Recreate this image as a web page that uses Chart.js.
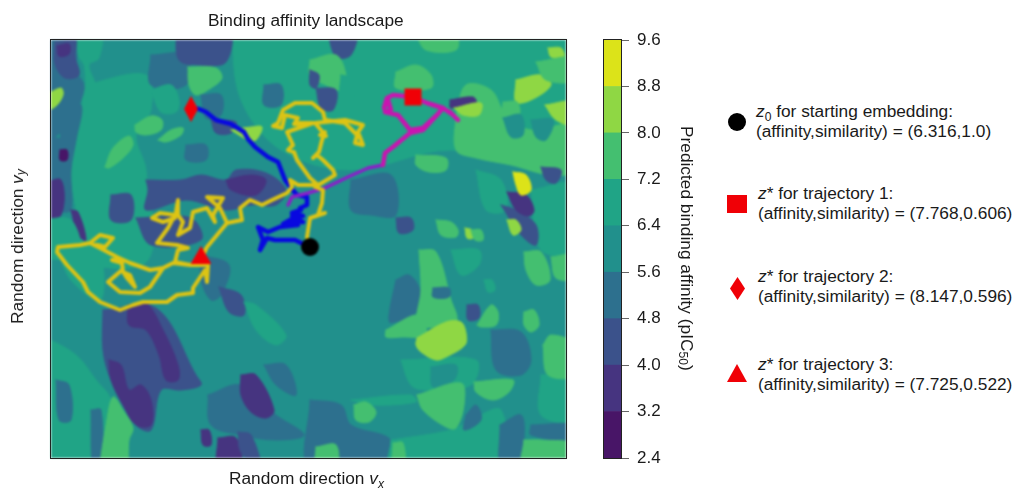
<!DOCTYPE html>
<html>
<head>
<meta charset="utf-8">
<script src="https://cdn.jsdelivr.net/npm/chart.js@4"></script>
<style>
  html, body { margin: 0; padding: 0; background: #fff; }
  body { width: 1013px; height: 488px; position: relative; overflow: hidden; font-family: "Liberation Sans", Arial, sans-serif; color: #1a1a1a; }
  .box { position: absolute; }
  #landscape { filter: blur(0.9px); }
  .frame { position: absolute; border: 1px solid #222; box-sizing: border-box; pointer-events: none; }
  .lbl { position: absolute; white-space: nowrap; font-size: 17.3px; line-height: 20px; }
  .vert { writing-mode: vertical-rl; }
  .up { transform: rotate(180deg); }
  sub { font-size: 70%; line-height: 0; }
  .entry { position: absolute; left: 758px; font-size: 17.3px; line-height: 20px; white-space: nowrap; }
  .mark { position: absolute; background: #f00006; filter: blur(0.5px); }
</style>
</head>
<body>
<div class="box" style="left:0;top:0;width:590px;height:488px"><canvas id="landscape"></canvas></div>
<div class="box" style="left:590px;top:0;width:100px;height:488px"><canvas id="colorbar"></canvas></div>
<div class="frame" style="left:50px;top:39px;width:517px;height:420px"></div>
<div class="frame" style="left:603px;top:39px;width:19px;height:420px"></div>

<div class="lbl" style="left:208px;top:10px">Binding affinity landscape</div>
<div class="lbl" style="left:229px;top:468px">Random direction <i>v<sub>x</sub></i></div>
<div class="lbl vert up" style="left:7px;top:169px">Random direction <i>v<sub>y</sub></i></div>
<div class="lbl vert" style="left:677px;top:126px">Predicted binding affinity (pIC<sub>50</sub>)</div>

<div class="mark" style="left:728px;top:113px;width:18px;height:18px;border-radius:50%;background:#000"></div>
<div class="entry" style="top:101px;left:756px"><i>z</i><sub>0</sub> for starting embedding:<br>(affinity,similarity) = (6.316,1.0)</div>
<div class="mark" style="left:727px;top:195px;width:20px;height:18px"></div>
<div class="entry" style="top:183px"><i>z</i>* for trajectory 1:<br>(affinity,similarity) = (7.768,0.606)</div>
<div class="mark" style="left:730px;top:277px;width:15px;height:23px;clip-path:polygon(50% 0,100% 50%,50% 100%,0 50%)"></div>
<div class="entry" style="top:266px"><i>z</i>* for trajectory 2:<br>(affinity,similarity) = (8.147,0.596)</div>
<div class="mark" style="left:727px;top:364px;width:20px;height:18px;clip-path:polygon(50% 0,100% 100%,0 100%)"></div>
<div class="entry" style="top:354px"><i>z</i>* for trajectory 3:<br>(affinity,similarity) = (7.725,0.522)</div>

<script>
// Colorbar bins
const tickLabels = [2.4, 3.2, 4.0, 4.8, 5.6, 6.4, 7.2, 8.0, 8.8, 9.6];
const levelColors = ["#481567", "#463480", "#3b528b", "#2d708e", "#21908c", "#20a486", "#44bf70", "#8fd744", "#dce319"];

// Landscape regions, painted in order: [level, x, y, x, y, ...]
const baseLevel = 4;
const regions = [
  [5, 180,-10, 525,-10, 525,130, 400,110, 300,130, 230,110, 190,60],
  [5, 33,45, 95,35, 100,70, 85,95, 95,130, 97,220, 32,220, 25,170, 20,130, 28,90],
  [3, 100,15, 135,15, 135,45, 100,45],
  [3, -10,-10, 27,-10, 25,30, 33,45, 30,60, 18,85, -10,100],
  [2, 4,2, 24,0, 24,16, 28,35, 14,38, 4,24],
  [1, 6,6, 18,4, 18,14, 8,16],
  [5, 27,-10, 50,-10, 48,18, 38,25, 44,45, 36,47, 33,25, 27,15],
  [2, 125,-10, 178,-10, 175,22, 150,25, 128,20],
  [3, 10,70, 30,65, 25,100, 20,130, 20,170, 10,170],
  [3, -10,100, 10,100, 10,145, -10,145],
  [1, -10,145, 10,140, 10,175, -10,180],
  [0, 9,110, 16,110, 16,120, 9,120],
  [1, 20,170, 27,172, 35,200, 27,195],
  [5, -10,180, 20,180, 28,215, -10,215],
  [2, 60,155, 80,155, 80,180, 60,180],
  [2, 95,140, 130,140, 150,135, 175,140, 185,130, 215,133, 235,150, 225,165, 200,165, 175,170, 135,160, 95,170, 97,150],
  [1, 175,140, 200,135, 215,140, 205,155, 180,150],
  [2, 85,178, 140,178, 150,200, 100,205],
  [5, 200,25, 235,25, 235,45, 200,45],
  [6, 137,27, 165,28, 171,38, 160,48, 145,55, 138,45],
  [5, 100,50, 120,45, 128,60, 125,72, 110,72],
  [7, -5,55, 10,48, 12,55, 5,66, -5,70],
  [6, 84,85, 100,76, 111,80, 110,90, 95,95, 85,92],
  [6, 107,100, 120,90, 132,88, 130,95, 115,102],
  [6, 54,127, 62,108, 78,96, 82,105, 72,118, 58,128],
  [3, 213,45, 230,45, 230,65, 213,65],
  [3, 150,55, 170,55, 170,75, 155,78],
  [2, 160,80, 185,82, 180,93, 165,93],
  [7, 180,90, 200,87, 211,87, 205,100, 197,100],
  [3, 135,105, 155,105, 155,120, 135,120],
  [2, 276,-10, 305,-10, 300,15, 285,17],
  [6, 365,-5, 405,-5, 405,10, 375,10],
  [6, 259,20, 285,15, 295,35, 292,50, 275,45, 259,35],
  [5, 290,35, 310,40, 305,55, 290,55],
  [2, 259,30, 268,35, 265,48, 259,45],
  [2, 265,48, 285,50, 282,70, 270,68],
  [6, 345,32, 365,25, 380,35, 380,48, 345,48],
  [6, 405,75, 415,45, 440,50, 455,75, 480,90, 525,85, 525,130, 500,135, 460,125, 425,118, 405,110],
  [7, 465,40, 490,35, 500,45, 480,60, 465,62],
  [6, 452,62, 466,62, 468,75, 452,75],
  [7, 494,65, 525,62, 525,85, 505,80],
  [7, 497,8, 510,8, 513,17, 500,17],
  [6, 485,22, 525,18, 525,40, 495,40],
  [1, 399,60, 422,57, 425,63, 400,68],
  [7, 403,68, 430,63, 428,75, 412,75],
  [4, 452,78, 470,75, 472,95, 460,97],
  [4, 480,80, 502,80, 495,100, 485,97],
  [6, 365,115, 395,118, 395,130, 378,132, 365,125],
  [3, 300,140, 340,135, 345,175, 320,175, 300,170],
  [2, 345,178, 360,178, 362,190, 348,193],
  [5, 425,130, 450,140, 455,170, 435,170],
  [5, 480,150, 525,145, 525,210, 490,210],
  [6, 385,180, 400,182, 407,190, 405,197, 390,195],
  [7, 414,188, 421,190, 422,198, 416,198],
  [6, 420,190, 430,190, 432,200, 424,200],
  [2, 450,165, 465,170, 485,185, 485,205, 470,195],
  [1, 456,152, 475,155, 483,170, 478,176, 465,170],
  [8, 462,132, 475,135, 480,150, 470,155, 465,145],
  [7, 456,180, 465,180, 470,190, 462,195],
  [2, 490,127, 510,130, 505,143, 495,140],
  // lower left
  [5, 5,205, 45,205, 50,260, 20,240],
  [5, -10,295, 25,315, 45,340, 60,360, 55,385, 48,430, -10,430],
  [3, 5,340, 18,345, 20,380, 8,380],
  [3, 40,370, 50,370, 50,430, 42,430],
  [6, 48,430, 55,385, 62,357, 72,370, 82,388, 78,400, 74,430],
  [2, 52,270, 105,268, 145,335, 150,345, 130,350, 110,350, 100,390, 85,385, 60,340, 52,310],
  [1, 58,320, 70,325, 78,350, 90,345, 100,360, 100,385, 85,385, 72,365, 60,340],
  [1, 77,265, 95,263, 112,290, 127,325, 127,340, 115,340, 108,315, 95,290, 78,285],
  [3, 157,355, 190,345, 225,375, 253,395, 225,400, 190,395, 160,385],
  [1, 190,335, 205,335, 223,370, 215,378, 200,372, 190,355],
  [1, 167,398, 185,398, 190,430, 167,430],
  [1, 150,390, 158,390, 160,405, 152,405],
  [2, 187,392, 200,395, 210,430, 190,412],
  [3, 150,215, 178,225, 170,255, 160,260, 150,240],
  [2, 168,247, 190,255, 193,275, 178,272],
  [5, 193,262, 205,265, 235,295, 225,305, 205,290],
  [3, 213,325, 235,325, 245,355, 225,345],
  // lower right
  [3, 259,360, 290,365, 300,385, 340,400, 340,430, 259,430],
  [5, 340,400, 400,390, 420,380, 450,370, 450,430, 340,430],
  [3, 345,240, 358,235, 369,250, 368,270, 340,283, 338,275],
  [5, 400,210, 428,210, 428,225, 410,235],
  [6, 368,210, 385,212, 400,260, 406,280, 395,285, 367,285, 370,250],
  [6, 335,290, 367,275, 375,295, 350,297, 335,297],
  [3, 382,248, 398,248, 398,257, 382,257],
  [5, 350,320, 425,320, 420,345, 375,350, 360,345],
  [4, 380,327, 405,325, 403,340, 382,347],
  [7, 366,298, 395,282, 410,282, 415,293, 414,305, 395,317, 385,320, 370,312, 365,305],
  [2, 416,265, 427,265, 428,278, 417,280],
  [6, 426,285, 440,265, 447,272, 445,285, 430,287],
  [5, 433,240, 441,240, 444,250, 437,252],
  [6, 473,212, 490,212, 499,240, 485,245, 475,230],
  [6, 500,217, 525,215, 525,238, 505,238],
  [3, 440,290, 470,292, 480,320, 470,335, 445,330],
  [6, 473,272, 483,270, 488,285, 480,292, 473,285],
  [5, 490,335, 525,335, 525,380, 490,375],
  [6, 492,305, 500,295, 525,305, 525,335, 497,335],
  [6, 423,342, 462,340, 458,352, 442,360, 425,352],
  [3, 415,375, 425,365, 430,380, 413,390],
  [6, 366,355, 410,343, 413,365, 405,388, 395,387, 372,370],
  [5, 300,360, 360,355, 365,362, 320,365],
  [6, 303,365, 315,362, 325,372, 318,382, 305,380],
  [3, 449,385, 470,375, 473,400, 468,430, 450,430],
  [3, 480,385, 525,385, 525,400, 480,395],
  [6, 473,400, 490,400, 525,405, 525,430, 472,430],
  [6, 342,403, 352,403, 353,430, 342,430],
  [6, 265,407, 285,405, 285,430, 265,430],
];

// Optimization trajectories, x, y pairs
const trajectoryBlue = [258,207, 244,200, 224,200, 216,198, 209,210, 212,200, 207,187, 217,192, 229,187, 247,185, 232,184, 239,180, 252,182, 241,176, 252,176, 241,173, 250,170, 249,168, 256,165, 256,157, 246,155, 240,148, 234,140, 227,122, 217,117, 204,107, 197,99, 193,92, 180,84, 165,80, 155,72, 148,69, 140,68];
const trajectoryPurple = [237,165, 241,157, 257,153, 274,148, 297,137, 317,128, 332,125];
const trajectoryMagenta = [332,125, 334,113, 342,107, 359,93, 372,90, 386,75, 392,68, 376,63, 362,57, 342,55, 336,58, 333,68, 337,60, 340,70, 334,72, 347,75, 359,90, 372,88, 386,75, 392,68, 402,75, 407,80, 399,72, 405,78];
const trajectoryYellow = [258,207, 256,197, 259,178, 274,173, 267,175, 271,163, 272,150, 264,147, 284,135, 282,130, 272,120, 266,115, 262,118, 268,112, 271,100, 274,92, 269,95, 275,96, 264,83, 274,82, 294,80, 312,85, 307,92, 312,105, 304,103, 306,95, 294,83, 274,80, 272,72, 261,63, 244,63, 232,70, 227,83, 222,86, 231,88, 234,75, 247,78, 243,84, 250,84, 247,83, 262,83, 236,92, 242,105, 237,110, 243,112, 246,120, 259,138, 267,145, 247,145, 239,140, 241,147, 236,153, 221,160, 211,165, 204,162, 199,160, 189,168, 191,180, 176,183, 169,168, 156,157, 172,158, 162,175, 164,182, 156,168, 142,172, 139,188, 127,195, 132,182, 127,175, 127,160, 124,178, 112,182, 101,178, 109,173, 124,175, 117,188, 106,203, 126,205, 137,208, 127,210, 124,222, 112,228, 99,230, 79,223, 66,217, 49,208, 39,203, 49,195, 62,198, 54,207, 39,203, 29,205, 7,207, 6,212, 16,225, 32,242, 37,252, 49,262, 69,270, 82,265, 92,262, 116,262, 126,255, 142,253, 142,248, 154,230, 156,242, 157,225, 139,225, 122,223, 112,228, 99,247, 89,253, 69,252, 57,242, 71,230, 76,238, 84,247, 79,235, 72,232, 71,223, 61,220, 66,217, 79,223, 99,230, 112,228, 124,222, 139,225, 149,222, 156,207, 166,195, 176,183, 166,195, 156,207, 150,218];

// Marker positions
const startPoint = [259, 207];
const bestPoint1 = [362, 57];
const bestPoint2 = [140, 69];
const bestPoint3 = [150, 218];

function toPoints(list) {
  const pts = [];
  for (let i = 0; i < list.length; i += 2) pts.push({ x: list[i], y: list[i + 1] });
  return pts;
}

function pathDataset(list, color, width) {
  return { data: toPoints(list), showLine: true, borderColor: color, backgroundColor: color, borderWidth: width, pointRadius: 0, borderJoinStyle: "round", borderCapStyle: "round", fill: false };
}

function markerDataset(pt, color, style, radius) {
  return { data: [{ x: pt[0], y: pt[1] }], backgroundColor: color, borderColor: color, borderWidth: 0, pointRadius: radius, pointStyle: style };
}

// Tall diamond, Chart.js has no stretched point style
const diamond = document.createElement("canvas");
diamond.width = 14;
diamond.height = 26;
const dctx = diamond.getContext("2d");
dctx.fillStyle = "#f00006";
dctx.beginPath();
dctx.moveTo(7, 0);
dctx.lineTo(14, 13);
dctx.lineTo(7, 26);
dctx.lineTo(0, 13);
dctx.fill();

// Chart.js draws the first dataset on top
const datasets = [];
datasets.push(markerDataset(startPoint, "#000", "circle", 9));
datasets.push(markerDataset(bestPoint1, "#f00006", "rect", 12));
datasets.push(markerDataset(bestPoint2, "#f00006", diamond, 12));
datasets.push(markerDataset(bestPoint3, "#f00006", "triangle", 12));
datasets.push(pathDataset(trajectoryYellow, "#dcc414", 4));
datasets.push(pathDataset(trajectoryMagenta, "#c815b0", 4.5));
datasets.push(pathDataset(trajectoryPurple, "#8a20c8", 3.5));
datasets.push(pathDataset(trajectoryBlue, "#0808e0", 4.5));
regions.slice().reverse().forEach(r => {
  const ds = pathDataset(r.slice(1).concat(r.slice(1, 3)), levelColors[r[0]], 1);
  ds.fill = "shape";
  ds.tension = 0.35;
  datasets.push(ds);
});

new Chart(document.getElementById("landscape"), {
  type: "scatter",
  data: { datasets },
  options: {
    responsive: true,
    maintainAspectRatio: false,
    animation: false,
    layout: { padding: { left: 51, right: 24, top: 40, bottom: 30 } },
    plugins: { legend: { display: false }, tooltip: { enabled: false } },
    scales: {
      x: { display: false, min: 0, max: 515 },
      y: { display: false, min: 0, max: 418, reverse: true }
    }
  },
  plugins: [{
    id: "baseFill",
    beforeDatasetsDraw: (chart) => {
      const { ctx, chartArea } = chart;
      ctx.fillStyle = levelColors[baseLevel];
      ctx.fillRect(chartArea.left, chartArea.top, chartArea.width, chartArea.height);
    }
  }]
});

// Colorbar
const barSets = levelColors.map((c, i) => ({
  data: [[tickLabels[i], tickLabels[i + 1]]],
  backgroundColor: c,
  barPercentage: 1,
  categoryPercentage: 1
}));

new Chart(document.getElementById("colorbar"), {
  type: "bar",
  data: { labels: [""], datasets: barSets },
  options: {
    responsive: true,
    maintainAspectRatio: false,
    animation: false,
    layout: { padding: { left: 14, right: 0, top: 40, bottom: 30 } },
    plugins: { legend: { display: false }, tooltip: { enabled: false } },
    scales: {
      x: { display: false, stacked: true },
      y: {
        position: "right",
        min: 2.4,
        max: 9.6,
        afterBuildTicks: (axis) => { axis.ticks = tickLabels.map(v => ({ value: v })); },
        afterFit: (axis) => { axis.width = 69; },
        ticks: {
          color: "#1a1a1a",
          padding: 8,
          font: { family: "'Liberation Sans'", size: 17 },
          callback: (v) => v.toFixed(1)
        },
        grid: { drawOnChartArea: false, tickLength: 8, color: "#666" },
        border: { display: false }
      }
    }
  }
});
</script>
</body>
</html>
